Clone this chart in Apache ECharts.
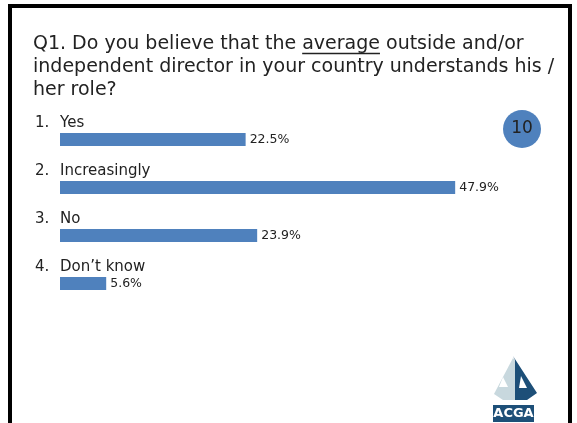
<!DOCTYPE html>
<html>
<head>
<meta charset="utf-8">
<script src="https://cdn.jsdelivr.net/npm/echarts@6/dist/echarts.min.js"></script>
<style>html,body{margin:0;padding:0;background:#fff;}#c{width:577px;height:423px;}</style>
</head>
<body>
<div id="c"></div>
<script>
const titleLines = ['Q1. Do you believe that the average outside and/or', 'independent director in your country understands his /', 'her role?'];
const underlinedWord = 'average';
const numbers = ['1.', '2.', '3.', '4.'];
const categories = ['Yes', 'Increasingly', 'No', 'Don\u2019t know'];
const values = [22.5, 47.9, 23.9, 5.6];
const pageNumber = '10';

const FONT = 'DejaVu Sans';
const titleSize = 19;
const chart = echarts.init(document.getElementById('c'), null, {renderer: 'canvas'});

// measure for underline
const cv = document.createElement('canvas').getContext('2d');
cv.font = titleSize + 'px "' + FONT + '"';
const pre = titleLines[0].slice(0, titleLines[0].indexOf(underlinedWord));
const ux = 33 + cv.measureText(pre).width;
const uw = cv.measureText(underlinedWord).width;

chart.setOption({
  animation: false,
  grid: {left: 60, top: 115.5, width: 412.5, height: 192},
  xAxis: {type: 'value', min: 0, max: 50, show: false},
  yAxis: {
    type: 'category', data: categories, inverse: true,
    axisLine: {show: false}, axisTick: {show: false},
    axisLabel: {
      align: 'left', margin: 25, verticalAlign: 'middle', padding: [0, 0, 33, 0],
      formatter: function (v, i) { return '{n|' + numbers[i] + '}{t|' + v + '}'; },
      rich: {
        n: {width: 25, fontSize: 15, fontFamily: FONT, color: '#222'},
        t: {fontSize: 15, fontFamily: FONT, color: '#222'}
      }
    }
  },
  series: [{
    type: 'bar', data: values, barWidth: 13,
    itemStyle: {color: '#4f81bd'},
    label: {show: true, position: 'right', distance: 4, formatter: '{c}%', fontSize: 12.5, fontFamily: FONT, color: '#222', padding: [3, 0, 0, 0]}
  }],
  graphic: [
    {type: 'rect', shape: {x: 10, y: 6, width: 560, height: 600}, style: {fill: null, stroke: '#000', lineWidth: 4}},
    {type: 'text', x: 33, y: 33, style: {text: titleLines.join('\n'), font: titleSize + 'px "' + FONT + '"', fill: '#222', lineHeight: 23}},
    {type: 'line', shape: {x1: ux, y1: 53.5, x2: ux + uw, y2: 53.5}, style: {stroke: '#222', lineWidth: 1.3}},
    {type: 'circle', shape: {cx: 522, cy: 129, r: 19}, style: {fill: '#4f81bd'}},
    {type: 'text', x: 522, y: 129, style: {text: pageNumber, font: '17px "' + FONT + '"', fill: '#222', align: 'center', verticalAlign: 'middle'}},
    // ACGA logo
    {type: 'polygon', shape: {points: [[513, 358], [494, 394], [503, 400], [515, 400], [515, 360]]}, style: {fill: '#c8d8de'}},
    {type: 'polygon', shape: {points: [[503, 377], [499, 387], [508, 387]]}, style: {fill: '#ffffff'}},
    {type: 'polygon', shape: {points: [[513, 356], [537, 393], [527, 400], [515, 400], [515, 360]]}, style: {fill: '#1d4f78'}},
    {type: 'polygon', shape: {points: [[521, 376], [519, 388], [527, 388]]}, style: {fill: '#ffffff'}},
    {type: 'rect', shape: {x: 493, y: 405, width: 41, height: 17}, style: {fill: '#1d4f78'}},
    {type: 'text', x: 513.5, y: 413.5, style: {text: 'ACGA', font: 'bold 13px "DejaVu Sans"', fill: '#fff', align: 'center', verticalAlign: 'middle'}}
  ]
});
</script>
</body>
</html>
